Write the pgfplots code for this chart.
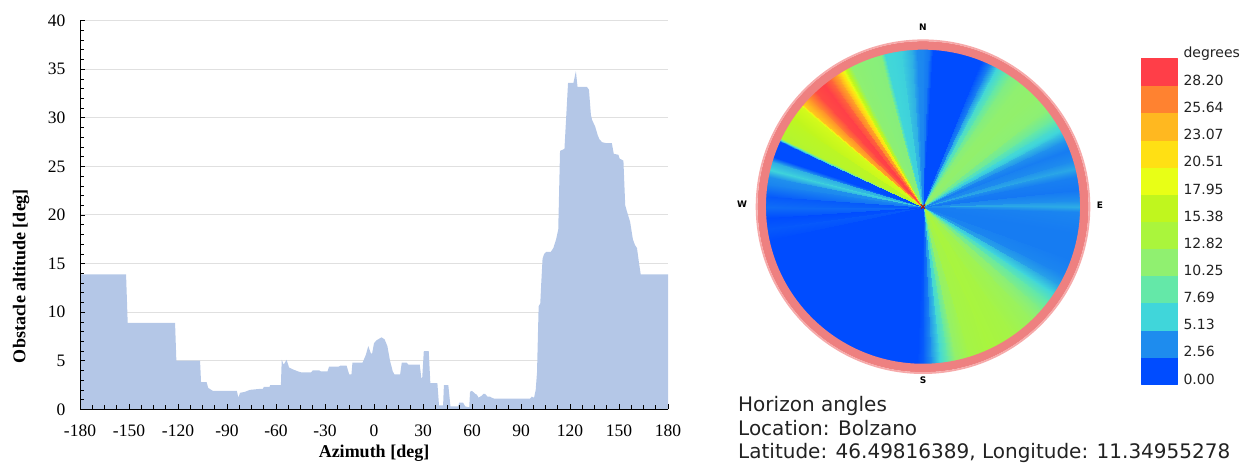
\documentclass[border=0pt]{standalone}
\usepackage{fontspec}
\setmainfont{Liberation Serif}
\newfontfamily\dejavu{DejaVu Sans}
\usepackage{pgfplots}
\usepackage{pgfplotstable}
\pgfplotsset{compat=1.18}
\definecolor{areablue}{RGB}{180,199,231}
\definecolor{gridgray}{RGB}{224,224,224}
\definecolor{ringpink}{RGB}{238,128,128}
\definecolor{ringlight}{RGB}{246,170,170}
\definecolor{txtgray}{RGB}{34,34,34}
\pgfplotsset{colormap={horizon}{rgb255=(0,76,255) rgb255=(30,140,238) rgb255=(64,214,218) rgb255=(100,232,168) rgb255=(144,240,112) rgb255=(170,245,60) rgb255=(192,246,30) rgb255=(232,255,22) rgb255=(255,224,20) rgb255=(255,184,32) rgb255=(255,130,48) rgb255=(255,62,72)}}
\pgfplotsset{layers/mylayers/.define layer set={axis background,axis grid,main,axis ticks,axis lines,axis tick labels,axis descriptions,axis foreground}{/pgfplots/layers/standard}}

\pgfplotstableread{
az alt
-180 13.9
-151.8 13.9
-150.8 8.9
-121.8 8.9
-121.0 5.0
-106.5 5.0
-105.9 2.8
-102.5 2.8
-101.5 2.2
-98.7 1.9
-84 1.9
-83 1.2
-82 1.7
-79 1.8
-76 2.0
-70 2.1
-68 2.1
-67.5 2.3
-64 2.3
-63.5 2.5
-57 2.5
-56.5 5.1
-55.3 4.6
-53.5 5.1
-52 4.3
-49.5 4.1
-46.5 3.9
-44.5 3.8
-38.5 3.8
-37.5 4.0
-33.5 4.0
-32.5 3.9
-28.5 3.9
-27.5 4.4
-21.5 4.4
-20.5 4.5
-16.8 4.5
-15.2 3.6
-13.8 3.6
-13.2 4.8
-7 4.8
-5 5.6
-3.5 6.5
-2 5.8
-1.2 5.7
0 6.8
1.5 7.1
3.5 7.3
4.7 7.4
6.5 7.2
8.2 6.5
9.8 5.0
11.5 3.9
12.5 3.6
16 3.6
17 4.8
20 4.8
21 4.6
28 4.6
29 3.2
29.5 3.2
30.5 6.0
33.5 6.0
34.5 2.7
38.8 2.7
39.8 0.4
42.3 0.4
42.8 2.5
45.5 2.5
46.8 0.3
51.5 0.3
52.2 0.7
54.5 0.7
55.8 0.3
58.3 0.2
58.8 1.8
60 1.9
61.9 1.6
63 1.5
64 1.2
65 1.3
66 1.4
67 1.6
68 1.6
69.5 1.3
71 1.3
72 1.2
73.5 1.1
95.5 1.1
96.6 1.3
98 1.2
99 2.0
99.8 3.8
100.8 10.6
101.8 10.9
102.4 13.0
103.2 15.5
104.2 16.0
105.5 16.2
108.2 16.2
109.8 16.6
111.5 17.5
112.8 18.5
113.9 26.6
116.6 26.8
118.8 33.6
122.1 33.6
123.6 34.8
124.6 33.2
130.3 33.2
131.6 32.9
132.8 30.3
133.5 29.8
135.4 29.1
137 28.2
138 27.8
139.6 27.5
142 27.4
145.6 27.4
146.8 26.3
149.6 26.2
150.4 25.8
152.7 25.6
153.8 21.0
154.8 20.4
156.8 19.3
158.5 17.5
159.8 16.9
161 16.6
162.3 15.0
163.3 13.9
180 13.9
}\profile

\pgfplotstableread{
a h
0 3.6
2 3.0
3.5 0.6
10 0.5
16 0.6
18 1.2
19.5 0.6
22 1.0
25 3.5
28 6.2
31 8.5
34 10.5
38 11.5
45 11.8
52 11.3
56 9.5
59 7.5
62 5.8
65 4.2
69 3.2
73 3.8
76 4.8
79 3.4
84 3.0
88 4.0
90 5.0
92 3.6
100 3.2
110 3.2
116 3.6
120 4.6
124 6.5
127 8.5
131 10.5
136 12.2
145 13.5
155 14.0
163 13.5
168 11.8
171 9.0
174 6.5
177 4.0
180 2.0
182 0.5
190 0.5
200 0.5
210 0.5
220 0.5
230 0.5
240 0.5
250 0.5
258 0.5
262 1.8
266 1.0
270 2.6
274 1.8
278 3.5
281 4.0
283.5 6.4
286.5 5.0
288.5 1.0
292 0.5
294.5 0.6
296 15.0
303 16.2
309.5 18.0
310.5 23.0
314 26.5
317 29.0
321 29.5
324 28.0
327 25.0
329.5 20.0
331.5 14.0
333 11.5
338 11.2
344.5 11.0
346 6.6
352 6.2
356 5.0
358 3.8
360 3.6
}\polar
\pgfplotstablegetrowsof{\polar}
\pgfmathtruncatemacro{\Npol}{\pgfplotsretval}
\pgfplotstablevertcat{\disc}{\polar}
\pgfplotstablevertcat{\disc}{\polar}

\pgfplotstableread{
x y c
0 0 1.28
1 0 1.28
1 1 1.28
0 1 1.28
0 1 3.85
1 1 3.85
1 2 3.85
0 2 3.85
0 2 6.41
1 2 6.41
1 3 6.41
0 3 6.41
0 3 8.97
1 3 8.97
1 4 8.97
0 4 8.97
0 4 11.54
1 4 11.54
1 5 11.54
0 5 11.54
0 5 14.10
1 5 14.10
1 6 14.10
0 6 14.10
0 6 16.67
1 6 16.67
1 7 16.67
0 7 16.67
0 7 19.23
1 7 19.23
1 8 19.23
0 8 19.23
0 8 21.79
1 8 21.79
1 9 21.79
0 9 21.79
0 9 24.36
1 9 24.36
1 10 24.36
0 10 24.36
0 10 26.92
1 10 26.92
1 11 26.92
0 11 26.92
0 11 29.49
1 11 29.49
1 12 29.49
0 12 29.49
}\cbar

\begin{document}
\begin{tikzpicture}

% ---- left: obstacle profile ----
\begin{axis}[
  set layers=mylayers,
  at={(80pt,54.7pt)}, anchor=south west,
  scale only axis, width=588pt, height=388.6pt,
  xmin=-180, xmax=180, ymin=0, ymax=40,
  axis x line*=bottom, axis y line*=left,
  xtick={-180,-150,-120,-90,-60,-30,0,30,60,90,120,150,180},
  xticklabels={-180,-150,-120,-90,-60,-30,0,30,60,90,120,150,180},
  minor x tick num=3,
  ytick={0,5,10,15,20,25,30,35,40},
  yticklabels={0,5,10,15,20,25,30,35,40},
  minor y tick num=4,
  tick align=inside,
  major tick length=5pt, minor tick length=4pt,
  ymajorgrids, grid style={gridgray, line width=1pt},
  tick style={black, line width=0.7pt},
  axis line style={black, line width=0.9pt},
  ticklabel style={font=\fontsize{17.5}{20}\selectfont},
  xticklabel style={yshift=-12pt},
  yticklabel style={xshift=-11pt},
  xlabel={Azimuth [deg]},
  ylabel={Obstacle altitude [deg]},
  label style={font=\fontsize{18}{21}\selectfont\bfseries},
  xlabel style={at={(axis description cs:0.5,-0.1125)}, anchor=center},
  ylabel style={at={(axis description cs:-0.1003,0.343)}, anchor=center},
]
\addplot[fill=areablue, draw=none] table[x=az, y=alt] {\profile} \closedcycle;
\end{axis}

% ---- right: horizon disc ----
\begin{axis}[
  at={(923pt,257.3pt)}, anchor=center,
  x=1pt, y=1pt,
  xmin=-175, xmax=175, ymin=-175, ymax=175,
  hide axis, clip=false,
  colormap name=horizon,
  point meta min=1.28, point meta max=29.49,
]
\addplot[surf, shader=interp, mesh/rows=2, point meta=\thisrow{h}]
  table[x expr={(\coordindex<\Npol ? 0 : 160)*sin(\thisrow{a})},
        y expr={(\coordindex<\Npol ? 0 : 160)*cos(\thisrow{a})}] {\disc};
\draw[ringpink, line width=8.5pt] (axis cs:0,0) circle[radius=161.3];
\draw[ringlight, line width=1.8pt] (axis cs:0,0) circle[radius=166.4];
\addplot[only marks, mark=x, mark size=3pt, line width=1.3pt, color={rgb,255:red,160;green,20;blue,20}] coordinates {(0,0)};
\node[font=\dejavu\bfseries\fontsize{9}{10}\selectfont] at (axis cs:0,179.7) {N};
\node[font=\dejavu\bfseries\fontsize{9}{10}\selectfont] at (axis cs:0,-173.3) {S};
\node[font=\dejavu\bfseries\fontsize{9}{10}\selectfont] at (axis cs:-181,2.7) {W};
\node[font=\dejavu\bfseries\fontsize{9}{10}\selectfont] at (axis cs:177,1.7) {E};
\end{axis}

% ---- colour bar ----
\begin{axis}[
  at={(1140.7pt,80pt)}, anchor=south west,
  scale only axis, width=36.3pt, height=325.7pt,
  xmin=0, xmax=1, ymin=0, ymax=12,
  axis line style={draw=none}, tick style={draw=none},
  xtick=\empty,
  ytick={0,1,2,3,4,5,6,7,8,9,10,11,12},
  yticklabels={0.00,2.56,5.13,7.69,10.25,12.82,15.38,17.95,20.51,23.07,25.64,28.20,degrees},
  yticklabel pos=right,
  yticklabel style={font=\dejavu\fontsize{14}{16}\selectfont, text=txtgray, anchor=west, yshift=5pt, xshift=3pt},
  colormap name=horizon,
  point meta min=1.28, point meta max=29.49,
  clip=false,
]
\addplot[patch, patch type=rectangle, shader=flat, point meta=\thisrow{c}] table[x=x, y=y] {\cbar};
\end{axis}

% ---- caption ----
\node[anchor=base west, inner sep=0, text=txtgray, font=\dejavu\fontsize{20}{24}\selectfont] at (738pt,52.3pt) {Horizon angles};
\node[anchor=base west, inner sep=0, text=txtgray, font=\dejavu\fontsize{20}{24}\selectfont] at (738pt,29pt) {Location: Bolzano};
\node[anchor=base west, inner sep=0, text=txtgray, font=\dejavu\fontsize{20}{24}\selectfont] at (738pt,5.8pt) {Latitude: 46.49816389, Longitude: 11.34955278};

\pgfresetboundingbox
\path[use as bounding box] (0,0) rectangle (1250pt,464pt);
\end{tikzpicture}
\end{document}
